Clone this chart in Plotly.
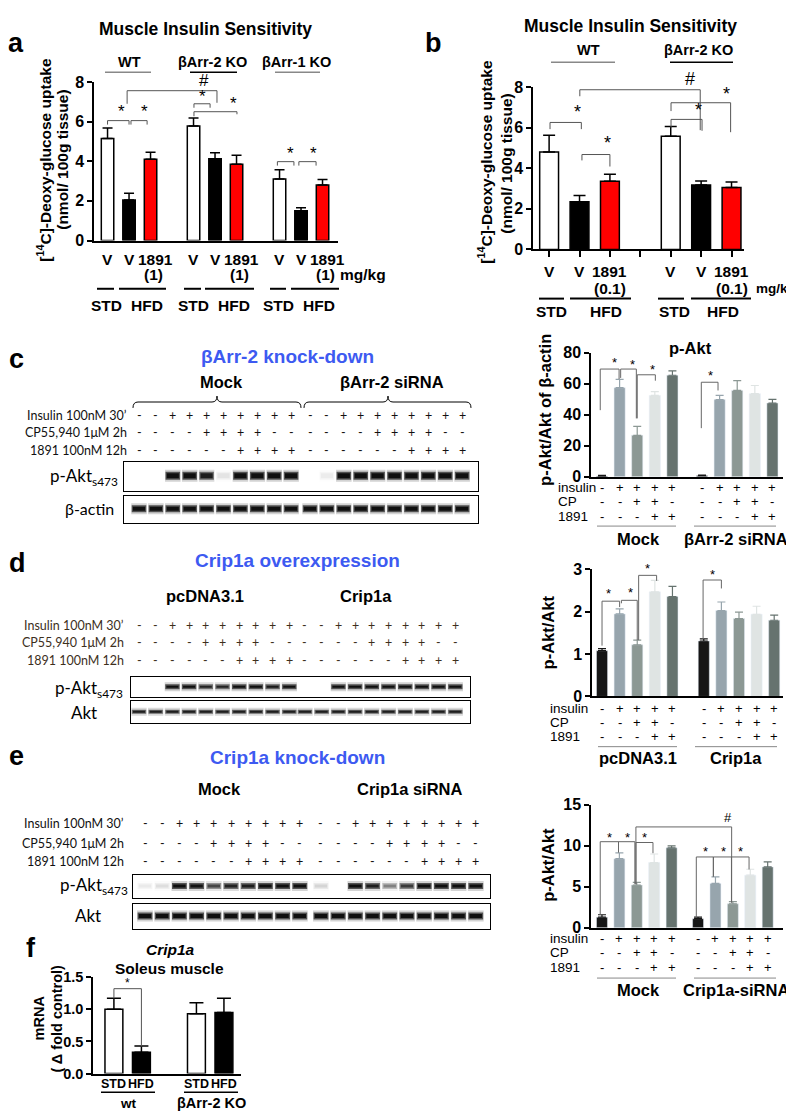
import plotly.graph_objects as go

W, H = 794, 1113
ARIAL = "Liberation Sans, Arial, Helvetica, sans-serif"
CALIBRI = "Lato, Open Sans, sans-serif"
BLUE = "#3d5af1"

# ======================= DATA =======================
# (a) Muscle insulin sensitivity (1891 at 1 mg/kg)
a_groups = ["WT", "βArr-2 KO", "βArr-1 KO"]
a_treat = ["V", "V", "1891"]
a_values = [5.15, 2.05, 4.10, 5.78, 4.12, 3.85, 3.10, 1.50, 2.80]
a_upper = [5.68, 2.38, 4.45, 6.18, 4.43, 4.30, 3.57, 1.65, 3.08]
a_colors = ["white", "black", "red"] * 3

# (b) Muscle insulin sensitivity (1891 at 0.1 mg/kg)
b_groups = ["WT", "βArr-2 KO"]
b_values = [4.80, 2.35, 3.35, 5.57, 3.17, 3.05]
b_upper = [5.62, 2.65, 3.70, 6.05, 3.37, 3.32]
b_colors = ["white", "black", "red"] * 2

# right-hand bar panels: conditions (insulin / CP / 1891)
cond_insulin = ["-", "+", "+", "+", "+"]
cond_cp = ["-", "-", "+", "+", "-"]
cond_1891 = ["-", "-", "-", "+", "+"]
cond_colors = ["#161616", "#97a5ad", "#8c9894", "#dfe4e3", "#66736f"]

# (c) p-Akt/Akt of beta-actin
c_mock = [0.5, 57.5, 26.8, 52.5, 65.5]
c_mock_up = [0.9, 62.8, 32.5, 55.0, 68.3]
c_sirna = [0.8, 49.8, 55.7, 53.6, 47.6]
c_sirna_up = [1.2, 52.5, 62.0, 58.9, 50.0]

# (d) p-Akt/Akt, Crip1a overexpression
d_pc = [1.08, 1.95, 1.22, 2.47, 2.36]
d_pc_up = [1.13, 2.07, 1.33, 2.74, 2.60]
d_crip = [1.31, 2.03, 1.84, 1.94, 1.80]
d_crip_up = [1.36, 2.23, 1.99, 2.13, 1.92]

# (e) p-Akt/Akt, Crip1a knock-down
e_mock = [1.30, 8.43, 5.22, 7.95, 9.76]
e_mock_up = [1.60, 9.15, 5.54, 9.00, 10.00]
e_sirna = [1.12, 5.42, 2.93, 6.42, 7.43]
e_sirna_up = [1.30, 6.22, 3.20, 7.14, 8.03]

# (f) Crip1a mRNA, soleus muscle
f_diet = ["STD", "HFD", "STD", "HFD"]
f_values = [1.00, 0.33, 0.93, 0.95]
f_upper = [1.17, 0.43, 1.10, 1.17]
f_colors = ["white", "black", "white", "black"]

# western blot lane conditions (per 10-lane group)
blot_insulin = ["-", "-", "+", "+", "+", "+", "+", "+", "+", "+"]
blot_cp = ["-", "-", "-", "-", "+", "+", "+", "+", "-", "-"]
blot_1891 = ["-", "-", "-", "-", "-", "-", "+", "+", "+", "+"]
# band intensities (0 = no band, 1 = full band), 20 lanes
c_pakt_bands = [0, 0, 1, 1, 0.85, 0.06, 1, 1, 1, 1, 0, 0.04, 1, 1, 1, 1, 1, 1, 1, 1]
c_actin_bands = [1] * 20
d_pakt_bands = [0, 0, 1, 1, 0.8, 0.8, 1, 1, 0.9, 1, 0, 0, 1, 1, 1, 1, 1, 1, 1, 1]
d_akt_bands = [0.85] * 20
e_pakt_bands = [0.05, 0.08, 1, 0.95, 0.6, 0.8, 0.85, 1, 1, 1, 0.1, 0, 1, 0.85, 0.35, 0.65, 1, 1, 1, 1]
e_akt_bands = [1] * 20

# ======================= HELPERS =======================
fig = go.Figure()
annotations = []
shapes = []
geom = {}


def px(x):
    return x / W


def py(y):
    return 1 - y / H


def add_axes(n, xpx, ypx, xr, yr, xkw=None, ykw=None):
    xa = "x" if n == 1 else f"x{n}"
    ya = "y" if n == 1 else f"y{n}"
    xkey = "xaxis" if n == 1 else f"xaxis{n}"
    ykey = "yaxis" if n == 1 else f"yaxis{n}"
    xd = dict(domain=[px(xpx[0]), px(xpx[1])], range=xr, anchor=ya,
              showgrid=False, zeroline=False, fixedrange=True)
    yd = dict(domain=[py(ypx[1]), py(ypx[0])], range=yr, anchor=xa,
              showgrid=False, zeroline=False, fixedrange=True)
    xd.update(xkw or {})
    yd.update(ykw or {})
    fig.update_layout({xkey: xd, ykey: yd})
    geom[n] = (xpx, ypx, xr, yr)
    return xa, ya


def X(n, v):
    (x0, x1), _, (r0, r1), _ = geom[n]
    return x0 + (v - r0) / (r1 - r0) * (x1 - x0)


def Y(n, v):
    _, (top, bot), _, (r0, r1) = geom[n]
    return bot - (v - r0) / (r1 - r0) * (bot - top)


def T(text, x, y, size=14, bold=True, color="black", xanchor="center",
      yanchor="middle", family=ARIAL, angle=0, italic=False):
    annotations.append(dict(
        text=text, x=px(x), y=py(y), xref="paper", yref="paper", showarrow=False,
        xanchor=xanchor, yanchor=yanchor, textangle=angle,
        font=dict(family=family, size=size, color=color,
                  weight="bold" if bold else "normal",
                  style="italic" if italic else "normal")))


def hline(x0, x1, y, color="black", width=1.5):
    shapes.append(dict(type="line", xref="paper", yref="paper",
                       x0=px(x0), x1=px(x1), y0=py(y), y1=py(y),
                       line=dict(color=color, width=width)))


def ppath(points, color="black", width=1):
    d = ""
    for cmd, pts in points:
        d += cmd + " " + " ".join(f"{px(a):.5f},{py(b):.5f}" for a, b in pts) + " "
    shapes.append(dict(type="path", xref="paper", yref="paper", path=d.strip(),
                       line=dict(color=color, width=width)))


def curly(x0, x1, xm, y):
    ppath([("M", [(x0, y + 6)]), ("Q", [(x0, y), (x0 + 5, y)]), ("L", [(xm - 5, y)]),
           ("Q", [(xm, y), (xm, y - 6)]), ("Q", [(xm, y), (xm + 5, y)]),
           ("L", [(x1 - 5, y)]), ("Q", [(x1, y), (x1, y + 6)])], width=1)


def square_bracket(x0, x1, xm, y):
    ppath([("M", [(x0, y + 6), (x0, y), (x1, y), (x1, y + 6)])], width=1)
    ppath([("M", [(xm, y), (xm, y - 6)])], width=1)


def bracket(xa, ya, xl, xr, yt, ylb, yrb, color="#444", width=1):
    shapes.append(dict(type="path", xref=xa, yref=ya,
                       path=f"M {xl},{ylb} L {xl},{yt} L {xr},{yt} L {xr},{yrb}",
                       line=dict(color=color, width=width)))


def mark(n, sx, sy, st="*", size=16):
    T(st, X(n, sx), Y(n, sy), size=size, bold=False)


XBAR = dict(showline=True, linecolor="black", linewidth=1.5, showticklabels=False, ticks="")


def YBAR(tickvals, ticktext=None, size=16):
    d = dict(showline=True, linecolor="black", linewidth=1.5, ticks="outside",
             ticklen=5, tickwidth=1.5, tickcolor="black", tickvals=tickvals,
             tickfont=dict(family=ARIAL, size=size, color="black", weight="bold"))
    if ticktext:
        d["ticktext"] = ticktext
    return d


def err(vals, ups):
    return [round(u - v, 4) for v, u in zip(vals, ups)]


# ======================= PANEL a =======================
a_pos = [g * 4 + k for g in range(3) for k in range(3)]
xa, ya = add_axes(1, (86, 330), (67, 228), [-0.63, 10.72], [0, 8], XBAR, YBAR([0, 2, 4, 6, 8]))
fig.add_trace(go.Bar(x=a_pos, y=a_values, width=0.58, xaxis=xa, yaxis=ya,
                     marker=dict(color=a_colors, line=dict(color="black", width=1.5)),
                     error_y=dict(type="data", symmetric=False, array=err(a_values, a_upper),
                                  arrayminus=[0] * 9, color="black", thickness=1.5, width=5)))
for b in [(0, 1.0, 6.05, 5.85, 5.85), (1.09, 1.84, 6.05, 5.85, 5.85),
          (0.91, 5.09, 7.56, 6.9, 6.95), (4.02, 4.77, 6.9, 6.7, 6.7),
          (4.02, 6.02, 6.5, 6.27, 6.37), (7.9, 8.67, 3.98, 3.78, 3.78),
          (8.9, 9.7, 3.98, 3.78, 3.78)]:
    bracket(xa, ya, *b, color="#555")
for sx, sy, st in [(0.67, 6.5, "*"), (1.74, 6.5, "*"), (4.49, 8.05, "#"), (4.44, 7.25, "*"),
                   (5.84, 6.9, "*"), (8.53, 4.4, "*"), (9.56, 4.4, "*")]:
    mark(1, sx, sy, st, size=17)
T("a", 8, 27, size=27)
T("Muscle Insulin Sensitivity", 197, 13, size=17.5)
T("WT", 121, 47, size=14.5)
T("βArr-2 KO", 205, 47, size=14.5)
T("βArr-1 KO", 288, 47, size=14.5)
hline(97, 143, 57, color="#888", width=1.5)
hline(182, 229, 57, color="black", width=1.5)
hline(267, 312, 57, color="#888", width=1.5)
T("[<sup>14</sup>C]-Deoxy-glucose uptake", 36, 146, size=15.5, angle=-90)
T("(nmol/ 100g tissue)", 55, 146, size=15.5, angle=-90)
for g in range(3):
    T("V", X(1, a_pos[g * 3]), 247, size=15.5)
    T("V", X(1, a_pos[g * 3 + 1]), 247, size=15.5)
    T("1891", X(1, a_pos[g * 3 + 2] + 0.22), 247, size=15.5)
    T("(1)", X(1, a_pos[g * 3 + 2] + 0.15), 263, size=15.5)
T("mg/kg", 355, 263, size=15.5)
for x0, x1 in [(89, 106), (111, 158), (176, 193), (197, 246), (262, 278), (283, 331)]:
    hline(x0, x1, 277, width=2)
for x, t in [(98, "STD"), (139, "HFD"), (185, "STD"), (226, "HFD"), (270, "STD"), (311, "HFD")]:
    T(t, x, 294, size=15.5)

# ======================= PANEL b =======================
b_pos = [g * 4 + k for g in range(2) for k in range(3)]
xb, yb = add_axes(2, (525, 736), (72, 237), [-0.53, 6.41], [0, 8],
                  dict(XBAR, ticks="outside", ticklen=6, tickwidth=1.5, tickcolor="black",
                       tickvals=[0, 1, 2, 3, 4, 5, 6]),
                  YBAR([0, 2, 4, 6, 8]))
fig.add_trace(go.Bar(x=b_pos, y=b_values, width=0.62, xaxis=xb, yaxis=yb,
                     marker=dict(color=b_colors, line=dict(color="black", width=1.5)),
                     error_y=dict(type="data", symmetric=False, array=err(b_values, b_upper),
                                  arrayminus=[0] * 6, color="black", thickness=1.5, width=6)))
for b in [(0.03, 1.06, 6.25, 5.92, 5.92), (1.08, 2.0, 4.67, 4.38, 4.08),
          (1.01, 4.97, 7.86, 7.54, 5.87), (4.01, 5.03, 6.4, 6.0, 5.84),
          (4.01, 5.97, 7.22, 6.81, 5.77)]:
    bracket(xb, yb, *b, color="#555")
for sx, sy, st in [(0.95, 6.75, "*"), (1.91, 5.25, "*"), (4.63, 8.4, "#"),
                   (4.9, 6.85, "*"), (5.82, 7.65, "*")]:
    mark(2, sx, sy, st, size=18)
T("b", 425, 27, size=27)
T("Muscle Insulin Sensitivity", 622, 10, size=17.5)
T("WT", 580, 35, size=14.5)
T("βArr-2 KO", 690, 35, size=14.5)
hline(543, 607, 47, color="#888", width=1.5)
hline(662, 725, 47, color="black", width=1.5)
T("[<sup>14</sup>C]-Deoxy-glucose uptake", 477, 148, size=15.5, angle=-90)
T("(nmol/ 100g tissue)", 499, 150, size=15.5, angle=-90)
for g in range(2):
    T("V", X(2, b_pos[g * 3]), 259, size=15.5)
    T("V", X(2, b_pos[g * 3 + 1]), 259, size=15.5)
    T("1891", X(2, b_pos[g * 3 + 2]), 259, size=15.5)
    T("(0.1)", X(2, b_pos[g * 3 + 2]), 277, size=15.5)
T("mg/kg", 746, 277, size=13.5, xanchor="left")
for x0, x1 in [(531, 556), (562, 623), (650, 676), (683, 743)]:
    hline(x0, x1, 287, width=2)
for x, t in [(543, "STD"), (598, "HFD"), (666, "STD"), (715, "HFD")]:
    T(t, x, 300, size=15.5)


# ======================= RIGHT BAR PANELS c/d/e =======================
def right_panel(n, xpx, ypx, xr, yr, tickvals, offset, g1, g1u, g2, g2u,
                row_y, row_x, line_y, lab_y, lab1, lab2):
    xr_, yr_ = add_axes(n, xpx, ypx, xr, yr, XBAR, YBAR(tickvals))
    for k in range(5):
        fig.add_trace(go.Bar(x=[k, offset + k], y=[g1[k], g2[k]], width=0.63,
                             xaxis=xr_, yaxis=yr_, marker=dict(color=cond_colors[k]),
                             error_y=dict(type="data", symmetric=False,
                                          array=err([g1[k], g2[k]], [g1u[k], g2u[k]]),
                                          arrayminus=[0, 0], color=cond_colors[k],
                                          thickness=1.2, width=4)))
    for lbl, signs, yy in zip(["insulin", "CP", "1891"], [cond_insulin, cond_cp, cond_1891], row_y):
        T(lbl, row_x, yy, size=13.5, bold=False, xanchor="left")
        for k, s in enumerate(signs):
            for base in (0, offset):
                T(s, X(n, base + k), yy, size=13, bold=False)
    hline(xpx[0] + 6, xpx[0] + 85, line_y, color="#888", width=1)
    hline(xpx[0] + 103, xpx[0] + 185, line_y, color="#888", width=1)
    T(lab1, 630, lab_y, size=16.5)
    T(lab2, 728, lab_y, size=16.5)
    return xr_, yr_


xc, yc = right_panel(3, (583, 775), (342, 468), [-0.625, 10.28], [0, 80], [0, 20, 40, 60, 80], 5.68,
                     c_mock, c_mock_up, c_sirna, c_sirna_up, [479, 493, 508], 548, 518, 531,
                     "Mock", "βArr-2 siRNA")
for b in [(-0.1, 0.97, 69.5, 43, 63.1), (1.06, 1.95, 69.5, 63.8, 37.7),
          (2.0, 3.03, 65.8, 37.7, 62), (5.64, 6.59, 61, 31.4, 55.7)]:
    bracket(xc, yc, *b, color="#666")
for sx, sy in [(0.72, 73.7), (1.76, 72.6), (2.84, 69.5), (6.15, 65.2)]:
    mark(3, sx, sy, "*", size=13)
T("p-Akt", 682, 337, size=16.5)
T("p-Akt/Akt of β-actin", 537, 400, size=16.5, angle=-90)

xd, yd = right_panel(4, (584, 775), (562, 691), [-0.57, 10.28], [0, 3], [0, 1, 2, 3], 5.78,
                     d_pc, d_pc_up, d_crip, d_crip_up, [703, 717, 732], 540, 742, 754,
                     "pcDNA3.1", "Crip1a")
for b in [(0, 1.0, 2.25, 1.2, 2.11), (1.1, 2.0, 2.27, 2.2, 1.33),
          (2.08, 3.1, 2.86, 1.33, 2.73), (5.74, 6.78, 2.75, 1.36, 2.55)]:
    bracket(xd, yd, *b, color="#666")
for sx, sy in [(0.34, 2.43), (1.6, 2.46), (2.61, 3.02), (6.27, 2.88)]:
    mark(4, sx, sy, "*", size=13)
T("p-Akt/Akt", 540, 626, size=16.5, angle=-90)

xe, ye = right_panel(5, (583, 775), (801, 926), [-0.63, 10.4], [0, 15], [0, 5, 10, 15], 5.52,
                     e_mock, e_mock_up, e_sirna, e_sirna_up, [937, 951, 966], 540, 977, 989,
                     "Mock", "Crip1a-siRNA")
for b in [(-0.1, 0.95, 10.5, 1.56, 9.2), (0.95, 1.89, 10.5, 9.2, 5.32),
          (1.95, 2.93, 10.4, 5.32, 9.1), (1.95, 7.45, 12.3, 5.32, 3.1),
          (5.42, 6.4, 8.64, 1.3, 6.24), (6.4, 7.44, 8.64, 6.24, 3.1),
          (7.44, 8.45, 8.64, 3.1, 7.12)]:
    bracket(xe, ye, *b, color="#666")
for sx, sy, st in [(0.44, 11.0, "*"), (1.48, 11.0, "*"), (2.42, 11.0, "*"), (7.22, 13.5, "#"),
                   (5.93, 9.33, "*"), (6.97, 9.33, "*"), (7.97, 9.33, "*")]:
    mark(5, sx, sy, st, size=13)
T("p-Akt/Akt", 540, 862, size=16.5, angle=-90)

# ======================= PANEL f =======================
f_pos = [0, 1, 3, 4]
xf, yf = add_axes(6, (85, 233), (976, 1074), [-0.76, 4.62], [0, 1.5], XBAR,
                  YBAR([0, 0.5, 1.0, 1.5], ["0.0", "0.5", "1.0", "1.5"], size=14.5))
fig.add_trace(go.Bar(x=f_pos, y=f_values, width=0.65, xaxis=xf, yaxis=yf,
                     marker=dict(color=f_colors, line=dict(color="black", width=1.5)),
                     error_y=dict(type="data", symmetric=False, array=err(f_values, f_upper),
                                  arrayminus=[0] * 4, color="black", thickness=1.5, width=7)))
bracket(xf, yf, 0, 1.0, 1.32, 1.17, 0.42, color="#555")
mark(6, 0.49, 1.41, "*", size=12)
T("f", 23, 946, size=27)
T("Crip1a", 162, 948, size=15.5, italic=True)
T("Soleus muscle", 161, 967, size=15.5)
T("mRNA", 31, 1018, size=14.5, angle=-90)
T("( Δ fold control)", 49, 1018, size=14.5, angle=-90)
for p, t in zip(f_pos, f_diet):
    T(t, X(6, p), 1085, size=12.5)
hline(93, 147, 1093, width=1.5)
hline(176, 230, 1093, width=1.5)
T("wt", 120, 1104, size=13.5)
T("βArr-2 KO", 203, 1104, size=14.5)

# ======================= WESTERN BLOTS =======================
BOX = dict(showline=True, mirror=True, linecolor="black", linewidth=1,
           showticklabels=False, ticks="", showgrid=False, zeroline=False)


def blot_row(n, box_x, box_y, lane0, step, gap, bands, band_h):
    xr = [(box_x[0] - lane0) / step, (box_x[1] - lane0) / step]
    xa_, ya_ = add_axes(n, box_x, box_y, xr, [0, 1], BOX, BOX)
    levels = sorted(set(v for v in bands if v > 0))
    for v in levels:
        for half, w, alpha in ((0.46, band_h + 4, 0.18), (0.43, band_h, 0.65),
                               (0.36, max(band_h - 3, 2), 0.95)):
            xs, ys = [], []
            for i, b in enumerate(bands):
                if b == v:
                    xc_ = i + (gap if i >= 10 else 0)
                    xs += [xc_ - half, xc_ + half, None]
                    ys += [0.52, 0.52, None]
            fig.add_trace(go.Scatter(x=xs, y=ys, mode="lines", xaxis=xa_, yaxis=ya_,
                                     line=dict(color=f"rgba(12,12,12,{alpha * v:.3f})", width=w),
                                     hoverinfo="skip", connectgaps=False))
    return n


def blot_signs(n, gap, row_y, row_x, color):
    for lbl, signs, yy in zip(["Insulin 100nM 30’", "CP55,940 1μM 2h", "1891 100nM 12h"],
                              [blot_insulin, blot_cp, blot_1891], row_y):
        T(lbl, row_x, yy, size=12.5, bold=False, xanchor="right", family=CALIBRI, color=color)
        for i in range(20):
            s = signs[i % 10]
            T(s, X(n, i + (gap if i >= 10 else 0)), yy, size=12.5, bold=False,
              family=CALIBRI, color=color)


# c blot
ncb = blot_row(7, (116, 470), (453, 482), 131, 16.9, 0.12, c_pakt_bands, 8)
blot_row(8, (116, 470), (487, 515), 131, 16.9, 0.12, c_actin_bands, 7)
blot_signs(ncb, 0.12, [406, 423, 441], 121, "#111")
T("c", 8, 348, size=27)
T("βArr-2 knock-down", 279, 346, size=19, color=BLUE)
T("Mock", 213, 372, size=16.5)
T("βArr-2 siRNA", 384, 372, size=16.5)
curly(125, 293, 209, 392)
curly(296, 463, 380, 392)
T("p-Akt<sub>s473</sub>", 112, 468, size=17, bold=False, xanchor="right", family=CALIBRI)
T("β-actin", 108, 500, size=16, bold=False, xanchor="right", family=CALIBRI)

# d blot
ndb = blot_row(9, (123, 462), (671, 692), 131, 16.7, -0.06, d_pakt_bands, 5)
blot_row(10, (123, 462), (696, 718), 131, 16.7, -0.06, d_akt_bands, 4)
blot_signs(ndb, -0.06, [619, 636, 654], 118, "#3d2f1c")
T("d", 9, 555, size=27)
T("Crip1a overexpression", 289, 553, size=19, color=BLUE)
T("pcDNA3.1", 197, 589, size=16.5)
T("Crip1a", 358, 589, size=16.5)
square_bracket(124, 283, 199, 606)
square_bracket(291, 450, 365, 606)
T("p-Akt<sub>s473</sub>", 117, 683, size=17, bold=False, xanchor="right", family=CALIBRI)
T("Akt", 76, 707, size=17, bold=False, family=CALIBRI)

# e blot
neb = blot_row(11, (125, 482), (872, 896), 137, 17.2, 0.23, e_pakt_bands, 6)
blot_row(12, (125, 482), (902, 927), 137, 17.2, 0.23, e_akt_bands, 7)
blot_signs(neb, 0.23, [820, 840, 859], 118, "#111")
T("e", 8, 751, size=27)
T("Crip1a knock-down", 289, 753, size=19, color=BLUE)
T("Mock", 212, 785, size=16.5)
T("Crip1a siRNA", 402, 785, size=16.5)
square_bracket(133, 294, 204, 805)
square_bracket(302, 472, 383, 805)
T("p-Akt<sub>s473</sub>", 122, 884, size=17, bold=False, xanchor="right", family=CALIBRI)
T("Akt", 80, 913, size=17, bold=False, family=CALIBRI)

# ======================= LAYOUT =======================
fig.update_layout(width=W, height=H, margin=dict(l=0, r=0, t=0, b=0),
                  paper_bgcolor="white", plot_bgcolor="rgba(0,0,0,0)",
                  barmode="overlay", showlegend=False,
                  annotations=annotations, shapes=shapes,
                  font=dict(family=ARIAL, color="black"))
fig.write_html("out.html")
